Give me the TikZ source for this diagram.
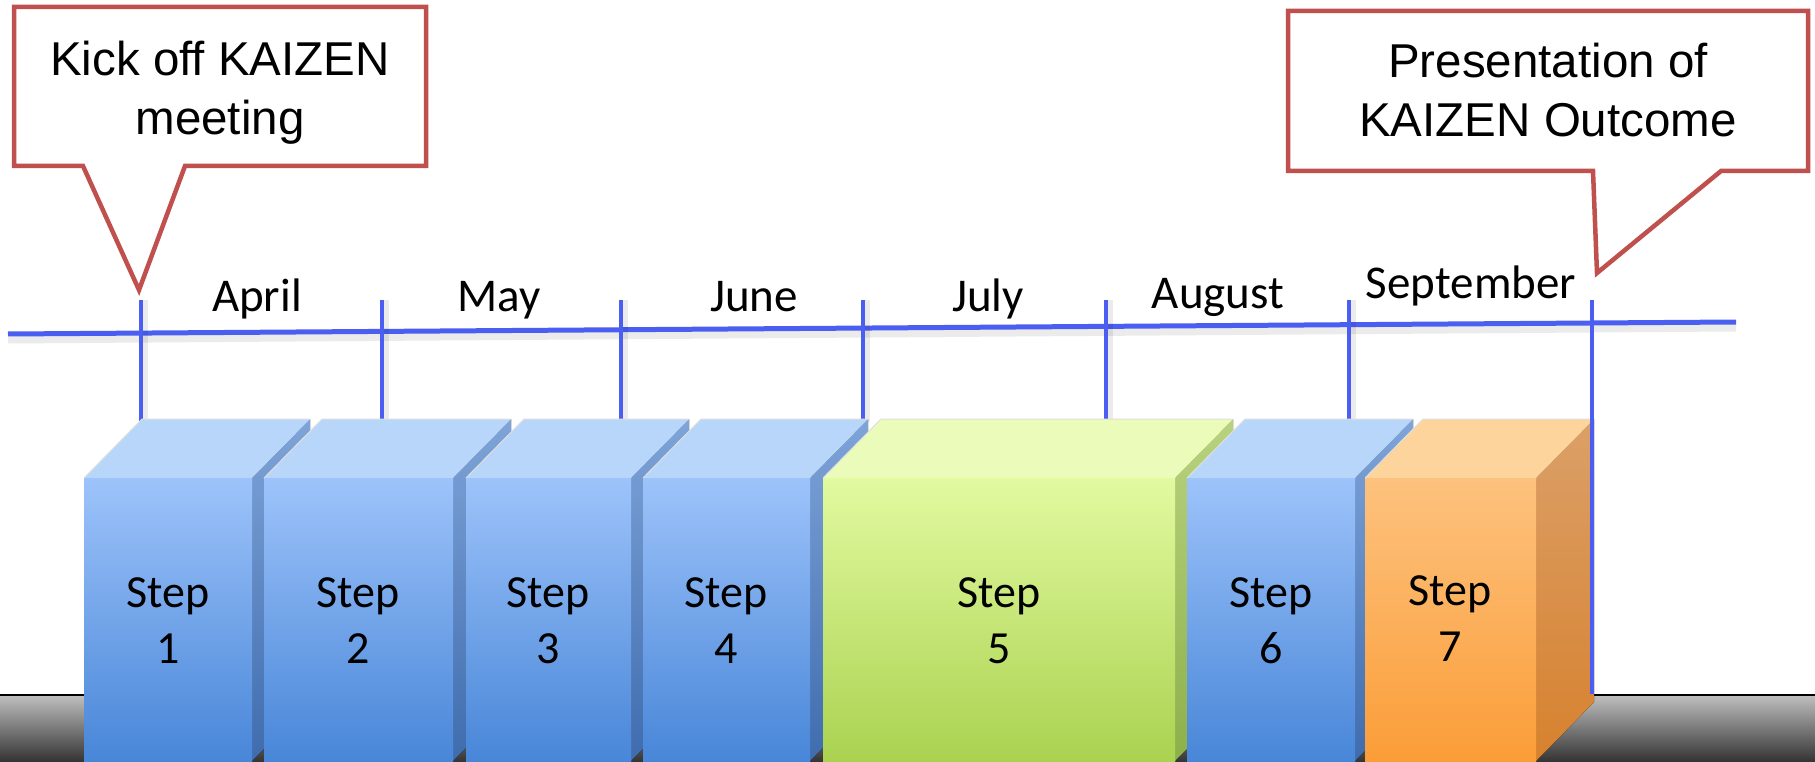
\documentclass[tikz,border=0pt]{standalone}
\usepackage{fontspec}
\setmainfont{Carlito}
\newfontfamily\arialfont{Liberation Sans}
\newfontfamily\calfont{Carlito}
\definecolor{calloutred}{HTML}{C0504D}
\definecolor{tlblue}{HTML}{4B5EF2}
\definecolor{bfrontT}{HTML}{9DC3FA}
\definecolor{bfrontB}{HTML}{4886D8}
\definecolor{btop}{HTML}{B8D6FA}
\definecolor{bsideT}{HTML}{7FA4D8}
\definecolor{bsideB}{HTML}{3F6CAE}
\definecolor{gfrontT}{HTML}{E2FAA0}
\definecolor{gfrontB}{HTML}{AAD250}
\definecolor{gtop}{HTML}{EBFBB9}
\definecolor{gsideT}{HTML}{B8D27E}
\definecolor{gsideB}{HTML}{8DB04A}
\definecolor{ofrontT}{HTML}{FDC27E}
\definecolor{ofrontB}{HTML}{FB9D38}
\definecolor{otop}{HTML}{FCD49C}
\definecolor{osideT}{HTML}{DBA068}
\definecolor{osideB}{HTML}{D7812E}
\newcommand\stepcube[3]{%
  \fill[#3 side] (#2,478) -- (#2+58,419) -- (#2+58,702) -- (#2,761) -- cycle;
  \fill[#3 top] (#1,478) -- (#1+58,419) -- (#2+58,419) -- (#2,478) -- cycle;
  \fill[#3 front] (#1,478) rectangle (#2,762);
  \draw[white!75!gray, line width=1] (#1,478) -- (#1+58,419) -- (#2+58,419);
}
\begin{document}
\begin{tikzpicture}[x=1pt,y=-1pt,
  blue side/.style={top color=bsideT, bottom color=bsideB},
  blue top/.style={fill=btop},
  blue front/.style={top color=bfrontT, bottom color=bfrontB},
  green side/.style={top color=gsideT, bottom color=gsideB},
  green top/.style={fill=gtop},
  green front/.style={top color=gfrontT, bottom color=gfrontB},
  orange side/.style={top color=osideT, bottom color=osideB},
  orange top/.style={fill=otop},
  orange front/.style={top color=ofrontT, bottom color=ofrontB},
  callout/.style={draw=calloutred, line width=4.5, fill=white, line join=miter},
  callouttext/.style={font=\arialfont\fontsize{47.5}{59}\selectfont, align=center, anchor=base, inner sep=0},
  month/.style={font=\calfont\fontsize{47}{56}\selectfont, anchor=base, inner sep=0},
  steplabel/.style={font=\calfont\fontsize{46}{56}\selectfont, align=center, anchor=base, inner sep=0},
  tick/.style={draw=tlblue, line width=4},
]
\useasboundingbox (0,0) rectangle (1815,762);
\fill[white] (0,0) rectangle (1815,762);

% ground
\shade[top color=black!25, bottom color=black!80] (0,695) rectangle (1815,762);
\draw[black, line width=2.5] (0,695) -- (1815,695);

% timeline
\coordinate (tlstart) at (8,334);
\coordinate (tlend) at (1736,322);
\draw[black, opacity=0.08, line width=9] ([yshift=-5]tlstart) -- ([yshift=-5]tlend);
\draw[tlblue, line width=5] (tlstart) -- (tlend);
\foreach \x/\n in {141/t0,382/t1,621/t2,863/t3,1106/t4,1349/t5}{
  \coordinate (\n a) at (\x,300);
  \coordinate (\n b) at (\x,422);
  \draw[black, opacity=0.08, line width=6] ([xshift=4]\n a) -- ([xshift=4]\n b);
  \draw[tick] (\n a) -- (\n b);
}

% boxes
\stepcube{84}{252}{blue}
\stepcube{264}{453}{blue}
\stepcube{466}{631}{blue}
\stepcube{643}{810}{blue}
\stepcube{823}{1175}{green}
\stepcube{1187}{1355}{blue}
\stepcube{1365}{1536}{orange}

% last tick along the right edge of step 7
\coordinate (t6a) at (1592,300);
\coordinate (t6b) at (1592,694);
\draw[tick] (t6a) -- (t6b);

% step labels (anchor base = baseline of the last line)
\node[steplabel] (s1) at (168,663) {Step\\1};
\node[steplabel] (s2) at (358,663) {Step\\2};
\node[steplabel] (s3) at (548,663) {Step\\3};
\node[steplabel] (s4) at (726,663) {Step\\4};
\node[steplabel] (s5) at (999,663) {Step\\5};
\node[steplabel] (s6) at (1271,663) {Step\\6};
\node[steplabel] (s7) at (1450,661) {Step\\7};

% months
\node[month] (m1) at (257,311) {April};
\node[month] (m2) at (499,311) {May};
\node[month] (m3) at (754,311) {June};
\node[month] (m4) at (988,311) {July};
\node[month] (m5) at (1218,308) {August};
\node[month] (m6) at (1471,298) {September};

% callouts
\draw[callout] (14,7) -- (426,7) -- (426,166) -- (185,166) -- (139,290) -- (83,166) -- (14,166) -- cycle;
\node[callouttext] (c1) at (220,135) {Kick off KAIZEN\\meeting};
\draw[callout] (1288,11) -- (1808,11) -- (1808,171) -- (1721,171) -- (1597,273) -- (1593,171) -- (1288,171) -- cycle;
\node[callouttext] (c2) at (1548,137) {Presentation of\\KAIZEN Outcome};
\end{tikzpicture}
\end{document}
